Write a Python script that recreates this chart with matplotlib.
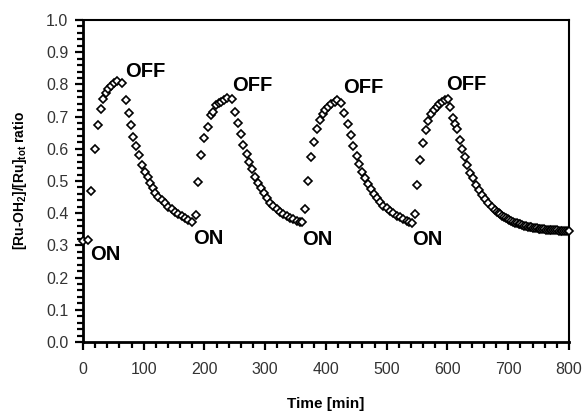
import matplotlib
matplotlib.use("Agg")
import matplotlib.pyplot as plt
from matplotlib.ticker import MultipleLocator

plt.rcParams["font.family"] = ["Liberation Sans", "DejaVu Sans"]
plt.rcParams["mathtext.fontset"] = "custom"
plt.rcParams["mathtext.rm"] = "Liberation Sans"
plt.rcParams["mathtext.bf"] = "Liberation Sans:bold"

# cycle 1 (light ON at 0 min)
t1 = [0, 8.5, 14, 19, 25, 29, 33.5, 38, 42, 46.5, 51, 55.5, 64.5, 70, 75, 79.5,
      83, 87, 92, 96.5, 102, 106.5, 110.5, 114.5, 119, 124, 129.5, 135, 140.5,
      146, 151.5, 157, 162.5, 168, 173.5, 179.5]
r1 = [0.315, 0.318, 0.469, 0.599, 0.674, 0.724, 0.754, 0.774, 0.785, 0.795,
      0.805, 0.812, 0.803, 0.750, 0.712, 0.674, 0.636, 0.609, 0.581, 0.550,
      0.529, 0.511, 0.493, 0.477, 0.464, 0.451, 0.441, 0.431, 0.420, 0.412,
      0.405, 0.398, 0.391, 0.384, 0.379, 0.374]

# cycle 2
t2 = [185.5, 190, 194, 199.5, 206, 210, 214.5, 219, 223.5, 227.5, 232, 237.5,
      244.5, 250, 255.5, 260, 264, 269.5, 274, 278, 283.5, 288.5, 292.5, 298,
      302.5, 308, 313.5, 319, 324.5, 330, 335.5, 340.5, 346, 351.5, 356.5, 361]
r2 = [0.394, 0.498, 0.581, 0.635, 0.667, 0.705, 0.715, 0.736, 0.743, 0.746,
      0.752, 0.757, 0.754, 0.715, 0.679, 0.646, 0.612, 0.584, 0.558, 0.536,
      0.513, 0.493, 0.477, 0.462, 0.446, 0.433, 0.422, 0.413, 0.405, 0.398,
      0.391, 0.386, 0.381, 0.377, 0.374, 0.372]

# cycle 3
t3 = [365.5, 371, 375.5, 380, 384.5, 390, 394.5, 399, 403.5, 409, 414.5, 418.5,
      424.5, 429.5, 435.5, 440.5, 445, 450.5, 455, 460, 465, 469.5, 474, 479,
      483.5, 489, 494.5, 500, 505.5, 511, 516.5, 522, 527, 533, 537, 541]
r3 = [0.412, 0.501, 0.574, 0.620, 0.660, 0.689, 0.707, 0.720, 0.731, 0.739,
      0.746, 0.752, 0.743, 0.712, 0.677, 0.643, 0.609, 0.578, 0.553, 0.529,
      0.508, 0.491, 0.474, 0.460, 0.446, 0.434, 0.423, 0.415, 0.407, 0.400,
      0.392, 0.387, 0.382, 0.377, 0.374, 0.371]

# cycle 4 and final dark period
t4 = [546.5, 550.5, 555, 560, 564, 568.5, 573, 578, 582, 586.5, 591, 595.5,
      600.5, 604, 608.5, 612, 616, 620.5, 624.5, 628, 632.5, 637, 641.5, 647,
      652, 656.5, 661.5, 667, 672.5, 678,
      681, 684, 687, 690, 693, 696, 699, 702, 705, 708, 711, 714, 717, 720,
      723, 726, 729, 732, 735, 738, 741, 744, 747, 750, 753, 756, 759, 762,
      765, 768, 771, 774, 777, 780, 783, 786, 789, 792, 795, 798, 800]
r4 = [0.398, 0.488, 0.565, 0.619, 0.658, 0.687, 0.708, 0.720, 0.731, 0.739,
      0.746, 0.752, 0.755, 0.731, 0.695, 0.678, 0.660, 0.627, 0.598, 0.574,
      0.550, 0.526, 0.508, 0.488, 0.472, 0.457, 0.443, 0.431, 0.420, 0.410,
      0.405, 0.400, 0.396, 0.392, 0.388, 0.384, 0.381, 0.378, 0.375, 0.373,
      0.371, 0.368, 0.366, 0.365, 0.363, 0.361, 0.360, 0.358, 0.357, 0.356,
      0.355, 0.354, 0.353, 0.352, 0.351, 0.351, 0.350, 0.349, 0.349, 0.348,
      0.348, 0.347, 0.347, 0.347, 0.346, 0.346, 0.346, 0.345, 0.345, 0.345,
      0.345]

time = t1 + t2 + t3 + t4
ratio = r1 + r2 + r3 + r4

# switch labels: (text, time, ratio)
labels = [("ON", 12.5, 0.255), ("OFF", 69, 0.823),
          ("ON", 181.5, 0.303), ("OFF", 245, 0.780),
          ("ON", 360, 0.301), ("OFF", 428.5, 0.773),
          ("ON", 541, 0.301), ("OFF", 597, 0.783)]

fig = plt.figure(figsize=(5.86, 4.19), dpi=100)
ax = fig.add_axes([0.1416, 0.1838, 0.8294, 0.7685])

ax.plot(time, ratio, linestyle="none", marker="D", markersize=4.5,
        markerfacecolor="white", markeredgecolor="black", markeredgewidth=1.2,
        clip_on=False, zorder=3)

for txt, x, y in labels:
    ax.text(x, y, txt, fontsize=14.5, fontweight="bold", ha="left", va="baseline")

ax.set_xlim(0, 800)
ax.set_ylim(0, 1.0)
ax.xaxis.set_major_locator(MultipleLocator(100))
ax.xaxis.set_minor_locator(MultipleLocator(20))
ax.yaxis.set_major_locator(MultipleLocator(0.1))
ax.yaxis.set_minor_locator(MultipleLocator(0.02))
ax.yaxis.set_major_formatter(plt.FormatStrFormatter("%.1f"))

ax.tick_params(which="both", direction="out", width=1.6, colors="black",
               labelcolor="#333333", labelsize=11.5)
ax.tick_params(which="major", length=5.5)
ax.tick_params(which="minor", length=4)
ax.tick_params(axis="x", pad=9)
ax.tick_params(axis="y", pad=5)

for side in ["left", "bottom"]:
    ax.spines[side].set_linewidth(2.0)
for side in ["top", "right"]:
    ax.spines[side].set_linewidth(1.5)

ax.set_xlabel("Time [min]", fontsize=11, fontweight="bold", labelpad=14)
ax.set_ylabel(r"[Ru-OH$_\mathbf{2}$]/[Ru]$_\mathbf{tot}$ ratio", fontsize=10,
              fontweight="bold", labelpad=12)

fig.savefig("out.png", dpi=100)
